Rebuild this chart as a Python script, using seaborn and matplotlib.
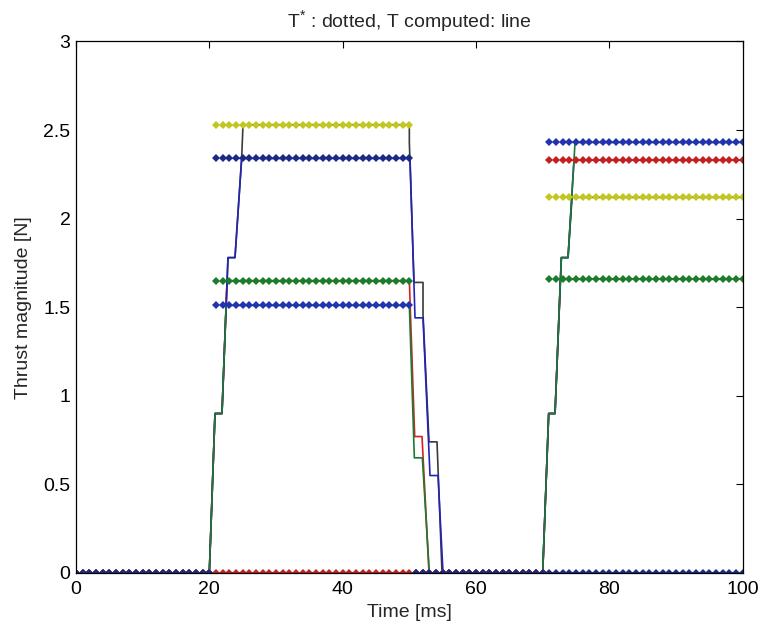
import numpy as np
import pandas as pd
import matplotlib
matplotlib.use("Agg")
import matplotlib.pyplot as plt
import seaborn as sns

# ---------------- data ----------------
# reference thrust T* (dotted, sampled every 1 ms)
time_ref = list(range(0, 101))
phaseA = (21, 50)   # first firing window (ms samples)
phaseB = (71, 100)  # second firing window
ref_colors = ["#1b7d2b", "#c3c61e", "#2233b0", "#c42020", "#1c2a86"]
ref_level_A = [1.65, 2.53, 1.51, 0.00, 2.34]
ref_level_B = [1.66, 2.12, 2.43, 2.33, 0.00]

# computed thrust T (solid lines), vertices
black_t = [0, 20, 20.85, 21.9, 22.8, 23.85, 24.85, 25.05, 50.0, 50.0, 50.7, 52.05, 52.05, 52.95, 54.15, 54.9,
           70, 70.9, 71.85, 72.8, 73.8, 74.4, 100]
black_v = [0, 0, 0.90, 0.90, 1.78, 1.78, 2.34, 2.53, 2.53, 2.43, 1.64, 1.64, 1.46, 0.74, 0.74, 0,
           0, 0.90, 0.90, 1.78, 1.78, 2.12, 2.12]
red_t = [0, 20, 20.85, 21.9, 22.66, 50.0, 50.8, 51.9, 52.95, 70, 70.9, 71.85, 72.65, 100]
red_v = [0, 0, 0.90, 0.90, 1.65, 1.65, 0.77, 0.77, 0, 0, 0.90, 0.90, 1.66, 1.66]
blue_t = [0, 20, 20.85, 21.9, 22.8, 23.85, 24.85, 50.1, 50.85, 52.05, 53.1, 54.3, 55.05, 70, 100]
blue_v = [0, 0, 0.90, 0.90, 1.78, 1.78, 2.34, 2.34, 1.44, 1.44, 0.55, 0.55, 0, 0, 0]
blue2_t = [0, 70, 70.9, 71.85, 72.8, 73.8, 74.7, 100]
blue2_v = [0, 0, 0.90, 0.90, 1.78, 1.78, 2.33, 2.33]
green_t = [0, 20, 20.85, 21.9, 22.52, 50.0, 50.75, 51.95, 53.0, 70, 70.9, 71.85, 72.8, 73.8, 74.85, 100]
green_v = [0, 0, 0.90, 0.90, 1.51, 1.51, 0.65, 0.65, 0, 0, 0.90, 0.90, 1.78, 1.78, 2.43, 2.43]

computed = [
    (black_t, black_v, "#3a3a3a"),
    (red_t, red_v, "#d42222"),
    (blue2_t, blue2_v, "#2424b4"),
    (blue_t, blue_v, "#2424b4"),
    (green_t, green_v, "#1d7a30"),
]

x_ticks = [0, 20, 40, 60, 80, 100]
y_ticks = [0, 0.5, 1, 1.5, 2, 2.5, 3]
y_ticklabels = ["0", "0.5", "1", "1.5", "2", "2.5", "3"]
title = "T$^{*}$ : dotted, T computed: line"
xlabel = "Time [ms]"
ylabel = "Thrust magnitude [N]"

# ---------------- plot ----------------
sns.set_theme(style="white")
plt.rcParams["font.family"] = ["Liberation Sans", "DejaVu Sans"]
plt.rcParams["mathtext.fontset"] = "custom"
plt.rcParams["mathtext.rm"] = "Liberation Sans"
plt.rcParams["mathtext.it"] = "Liberation Sans"

FS = 14

fig = plt.figure(figsize=(7.62, 6.32), dpi=100)
ax = fig.add_axes([0.0997, 0.0934, 0.8750, 0.8410])

for tt, vv, c in computed:
    df = pd.DataFrame({"t": tt, "v": vv})
    sns.lineplot(data=df, x="t", y="v", ax=ax, color=c, linewidth=1.2,
                 estimator=None, sort=False, legend=False)

t_arr = np.array(time_ref)
segments = [(0, phaseA[0] - 1, None), (phaseA[0], phaseA[1], "A"),
            (phaseA[1] + 1, phaseB[0] - 1, None), (phaseB[0], phaseB[1], "B")]
for c, la, lb in zip(ref_colors, ref_level_A, ref_level_B):
    for s0, s1, ph in segments:
        m = (t_arr >= s0) & (t_arr <= s1)
        lvl = la if ph == "A" else (lb if ph == "B" else 0.0)
        df = pd.DataFrame({"t": t_arr[m], "v": np.full(m.sum(), lvl)})
        sns.lineplot(data=df, x="t", y="v", ax=ax, color=c, linewidth=1.0,
                     linestyle=":", marker="D", markersize=3.8, markeredgewidth=0,
                     estimator=None, sort=False, legend=False)

ax.set_xlim(0, 100)
ax.set_ylim(0, 3)
ax.set_xticks(x_ticks)
ax.set_yticks(y_ticks)
ax.set_yticklabels(y_ticklabels)
ax.tick_params(direction="in", length=5, width=0.8, top=True, right=True,
               labelsize=FS, colors="black", pad=4)
ax.tick_params(axis="x", pad=6)
for s in ax.spines.values():
    s.set_visible(True)
    s.set_color("black")
    s.set_linewidth(0.9)
ax.set_xlabel(xlabel, fontsize=FS, labelpad=4)
ax.set_ylabel(ylabel, fontsize=FS, labelpad=8)
ax.set_title(title, fontsize=FS, pad=10)

fig.savefig("out.png", dpi=100, facecolor="white")
